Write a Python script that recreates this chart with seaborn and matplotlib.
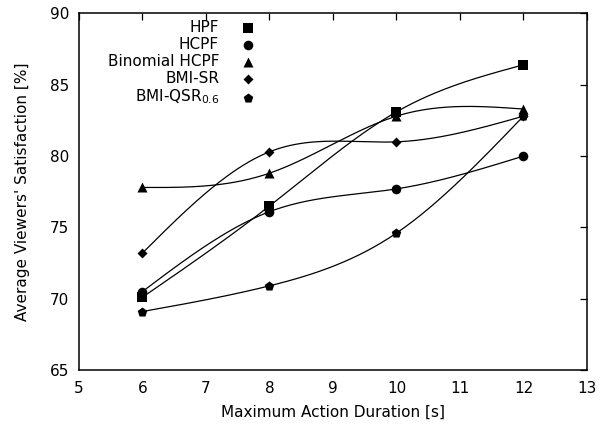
import matplotlib
matplotlib.use("Agg")
import matplotlib.pyplot as plt
import numpy as np
import pandas as pd
import seaborn as sns

durations = [6, 8, 10, 12]

hpf = [70.1, 76.5, 83.1, 86.4]
hcpf = [70.5, 76.1, 77.7, 80.0]
binomial_hcpf = [77.8, 78.8, 82.8, 83.3]
bmi_sr = [73.2, 80.3, 81.0, 82.8]
bmi_qsr = [69.1, 70.9, 74.6, 82.8]

series_names = ["HPF", "HCPF", "Binomial HCPF", "BMI-SR", "BMI-QSR$_{0.6}$"]
series_values = [hpf, hcpf, binomial_hcpf, bmi_sr, bmi_qsr]
markers = ["s", "o", "^", "D", "p"]
marker_sizes = [48, 48, 52, 26, 52]

x_ticks = [5, 6, 7, 8, 9, 10, 11, 12, 13]
y_ticks = [65, 70, 75, 80, 85, 90]


def natural_spline(x, y, n=200):
    # same idea as gnuplot "smooth csplines"
    x = np.asarray(x, float)
    y = np.asarray(y, float)
    k = len(x)
    h = np.diff(x)
    A = np.zeros((k, k))
    b = np.zeros(k)
    A[0, 0] = A[-1, -1] = 1.0
    for i in range(1, k - 1):
        A[i, i - 1] = h[i - 1]
        A[i, i] = 2 * (h[i - 1] + h[i])
        A[i, i + 1] = h[i]
        b[i] = 6 * ((y[i + 1] - y[i]) / h[i] - (y[i] - y[i - 1]) / h[i - 1])
    m = np.linalg.solve(A, b)
    xs = np.linspace(x[0], x[-1], n)
    idx = np.clip(np.searchsorted(x, xs) - 1, 0, k - 2)
    t0 = x[idx + 1] - xs
    t1 = xs - x[idx]
    hi = h[idx]
    ys = (m[idx] * t0 ** 3 / (6 * hi) + m[idx + 1] * t1 ** 3 / (6 * hi)
          + (y[idx] / hi - m[idx] * hi / 6) * t0
          + (y[idx + 1] / hi - m[idx + 1] * hi / 6) * t1)
    return xs, ys


sns.set_style("white")
plt.rcParams["font.family"] = ["DejaVu Sans"]
plt.rcParams["mathtext.fontset"] = "dejavusans"
plt.rcParams["text.color"] = "black"
plt.rcParams["axes.labelcolor"] = "black"
plt.rcParams["xtick.color"] = "black"
plt.rcParams["ytick.color"] = "black"

fig = plt.figure(figsize=(6.07, 4.28), dpi=100)
ax = fig.add_axes([0.130, 0.1355, 0.837, 0.833])

points = pd.DataFrame({
    "duration": durations * len(series_names),
    "satisfaction": sum(series_values, []),
    "series": [s for s in series_names for _ in durations],
})

for name, vals in zip(series_names, series_values):
    xs, ys = natural_spline(durations, vals)
    sns.lineplot(x=xs, y=ys, ax=ax, color="black", linewidth=0.9,
                 estimator=None, sort=False, legend=False)

for name, mk, ms in zip(series_names, markers, marker_sizes):
    sub = points[points["series"] == name]
    sns.scatterplot(data=sub, x="duration", y="satisfaction", ax=ax,
                    marker=mk, s=ms, color="black", edgecolor="black",
                    linewidth=0, label=name, zorder=3)

ax.set_xlim(5, 13)
ax.set_ylim(65, 90)
ax.set_xticks(x_ticks)
ax.set_yticks(y_ticks)
ax.tick_params(direction="in", length=5, width=0.9, top=True, right=True,
               labelsize=11, pad=7)
ax.tick_params(axis="x", pad=8)
for sp in ax.spines.values():
    sp.set_linewidth(1.1)
    sp.set_color("black")

ax.set_xlabel("Maximum Action Duration [s]", fontsize=11, labelpad=6)
ax.set_ylabel("Average Viewers' Satisfaction [%]", fontsize=11, labelpad=14)

ax.legend(loc="upper right", bbox_to_anchor=(0.372, 1.015), frameon=False,
          markerfirst=False, fontsize=11, handlelength=1.0,
          handletextpad=1.4, labelspacing=0.12, borderpad=0.3)

fig.savefig("out.png", dpi=100)
